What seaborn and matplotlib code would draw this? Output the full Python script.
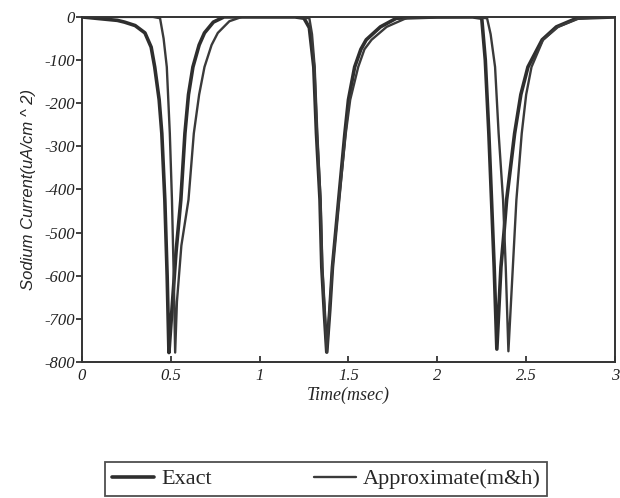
import pandas as pd
import seaborn as sns
import matplotlib.pyplot as plt

# values
t_exact = [0, 0.10, 0.20, 0.24, 0.30, 0.355, 0.39, 0.41, 0.435, 0.45, 0.467, 0.48, 0.49,
           0.505, 0.53, 0.557, 0.58, 0.60, 0.625, 0.66, 0.69, 0.74, 0.80,
           1.00, 1.20, 1.25, 1.28, 1.305, 1.32, 1.34, 1.35, 1.365, 1.378, 1.395, 1.41,
           1.445, 1.48, 1.50, 1.535, 1.57, 1.60, 1.68, 1.77, 2.00,
           2.20, 2.25, 2.27, 2.29, 2.305, 2.32, 2.335, 2.358, 2.375, 2.39, 2.435, 2.47,
           2.51, 2.59, 2.67, 2.785, 3.00]
i_exact = [0, -4, -8, -12, -20, -37, -70, -116, -192, -270, -424, -600, -778,
           -690, -545, -424, -270, -180, -116, -65, -37, -12, 0,
           0, 0, -3, -25, -116, -270, -424, -580, -690, -777, -680, -580,
           -424, -270, -192, -116, -75, -53, -23, -3, 0,
           0, -3, -100, -270, -424, -580, -770, -580, -501, -424, -270, -180,
           -116, -53, -23, -3, 0]

t_approx = [0, 0.40, 0.44, 0.46, 0.478, 0.495, 0.507, 0.517, 0.525,
            0.535, 0.56, 0.60, 0.63, 0.66, 0.69, 0.73, 0.765, 0.83, 0.90,
            1.20, 1.28, 1.295, 1.31, 1.325, 1.343, 1.353, 1.378, 1.41, 1.447,
            1.485, 1.51, 1.555, 1.59, 1.63, 1.715, 1.83, 2.20,
            2.28, 2.30, 2.325, 2.345, 2.37, 2.385, 2.40, 2.425, 2.445, 2.475, 2.50,
            2.53, 2.595, 2.68, 2.80, 3.00]
i_approx = [0, 0, -3, -50, -116, -270, -424, -600, -778,
            -660, -530, -424, -270, -180, -116, -65, -37, -10, 0,
            0, -3, -40, -116, -270, -424, -580, -777, -580, -424,
            -270, -192, -116, -75, -53, -23, -2, 0,
            -3, -40, -116, -270, -424, -580, -775, -580, -424, -270, -180,
            -116, -53, -23, -3, 0]

exact = pd.DataFrame({'t': t_exact, 'I': i_exact})
approx = pd.DataFrame({'t': t_approx, 'I': i_approx})

sns.set_style('ticks')
plt.rcParams['font.family'] = ['Liberation Serif', 'DejaVu Serif']
plt.rcParams['axes.unicode_minus'] = False

fig = plt.figure(figsize=(6.2, 4.98), dpi=100)
ax = fig.add_axes([0.132, 0.273, 0.860, 0.693])

sns.lineplot(data=exact, x='t', y='I', ax=ax, color='#2e2e2e', linewidth=2.6,
             estimator=None, label='Exact', legend=False)
sns.lineplot(data=approx, x='t', y='I', ax=ax, color='#3a3a3a', linewidth=1.7,
             estimator=None, label='Approximate(m&h)', legend=False)

ax.set_xlim(0, 3)
ax.set_ylim(-800, 0)
ax.set_xticks([0, 0.5, 1, 1.5, 2, 2.5, 3])
ax.set_xticklabels(['0', '0.5', '1', '1.5', '2', '2.5', '3'])
ax.set_yticks(range(-800, 1, 100))
for lab in ax.get_xticklabels() + ax.get_yticklabels():
    lab.set_fontstyle('italic')
    lab.set_fontsize(12)
ax.tick_params(axis='y', direction='out', length=4, width=1.2, colors='#222222', pad=1)
ax.tick_params(axis='x', direction='in', length=4, width=1.2, colors='#222222', pad=4)
for s in ax.spines.values():
    s.set_linewidth(1.4)
    s.set_color('#333333')

ax.set_xlabel('Time(msec)', fontsize=13, fontstyle='italic', labelpad=2)
ax.set_ylabel('Sodium Current(uA/cm ^ 2)', fontsize=12, fontstyle='italic',
              family='Liberation Sans', labelpad=6)

handles, labels = ax.get_legend_handles_labels()
leg = fig.legend(handles, labels, loc='upper left', bbox_to_anchor=(0.17, 0.072),
                 ncol=2, frameon=True, fancybox=False, edgecolor='#222222',
                 fontsize=16, handlelength=1.9, columnspacing=4.6,
                 borderpad=0.3, borderaxespad=0, handletextpad=0.3)
leg.get_frame().set_linewidth(1.3)

fig.savefig('out.png', dpi=100)
